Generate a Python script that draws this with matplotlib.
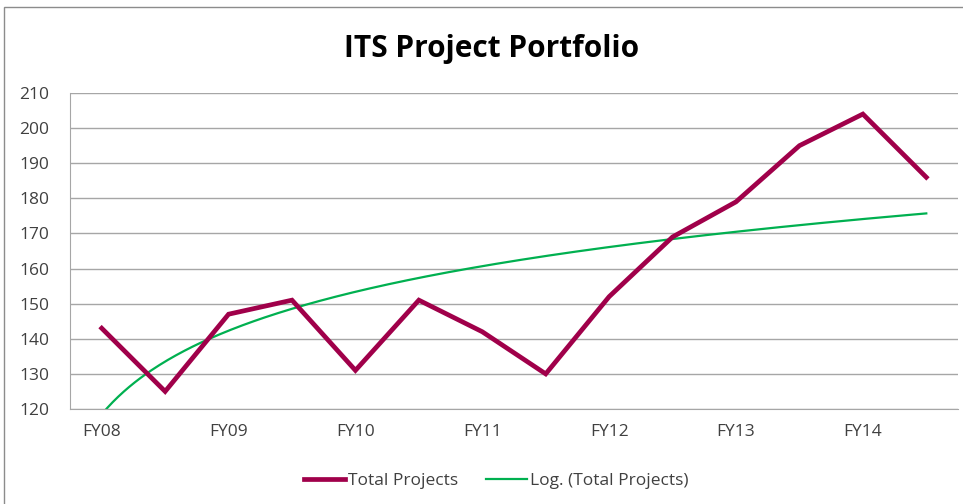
import numpy as np
import matplotlib.pyplot as plt
from matplotlib.patches import Rectangle

# Datos
etiquetas = ['FY08', '', 'FY09', '', 'FY10', '', 'FY11', '', 'FY12', '',
             'FY13', '', 'FY14', '']
total_proyectos = [143, 125, 147, 151, 131, 151, 142, 130, 152, 169,
                   179, 195, 204, 186]

xs = np.arange(1, len(total_proyectos) + 1)
ys = np.array(total_proyectos)

# Tendencia logarítmica (como la de Excel)
pendiente, interseccion = np.polyfit(np.log(xs), ys, 1)
xs_tend = np.linspace(1, len(xs), 300)
ys_tend = interseccion + pendiente * np.log(xs_tend)

plt.rcParams['font.family'] = ['Open Sans', 'DejaVu Sans']

fig = plt.figure(figsize=(9.63, 5.04), dpi=100)
ax = fig.add_axes([70 / 963, 1 - 409 / 504, 888 / 963, 316 / 504])

ax.plot(xs, ys, color='#A0004A', lw=3.4, solid_joinstyle='miter',
        label='Total Projects', zorder=3)
ax.plot(xs_tend, ys_tend, color='#00B050', lw=1.6,
        label='Log. (Total Projects)', zorder=2)

ax.set_xlim(0.5, len(xs) + 0.5)
ax.set_ylim(120, 210)
ax.set_yticks(np.arange(120, 211, 10))
ax.set_xticks(xs)
ax.set_xticklabels(etiquetas)
ax.tick_params(length=0, colors='#404040')
ax.tick_params(axis='x', labelsize=12.5, pad=11)
ax.tick_params(axis='y', labelsize=12.5, pad=15)
ax.grid(axis='y', color='#A6A6A6', lw=1)
ax.set_axisbelow(True)
for lado in ['top', 'right']:
    ax.spines[lado].set_visible(False)
ax.spines['left'].set_color('#A6A6A6')
ax.spines['bottom'].set_color('#A6A6A6')

fig.text(492 / 963, 1 - 57 / 504, 'ITS Project Portfolio', ha='center',
         va='baseline', fontsize=21.5, fontweight='bold', color='black')

fig.legend(loc='center', bbox_to_anchor=(496 / 963, 1 - 481 / 504), ncol=2,
           frameon=False, fontsize=12.5, handlelength=2.4,
           handletextpad=0.15, columnspacing=1.6, labelcolor='#404040')

# Borde del gráfico
fig.add_artist(Rectangle((4 / 963, -0.1), 1.2, 1 - 7 / 504 + 0.1,
                         transform=fig.transFigure, fill=False,
                         edgecolor='#8C8C8C', lw=1))

plt.savefig('out.png', dpi=100)
